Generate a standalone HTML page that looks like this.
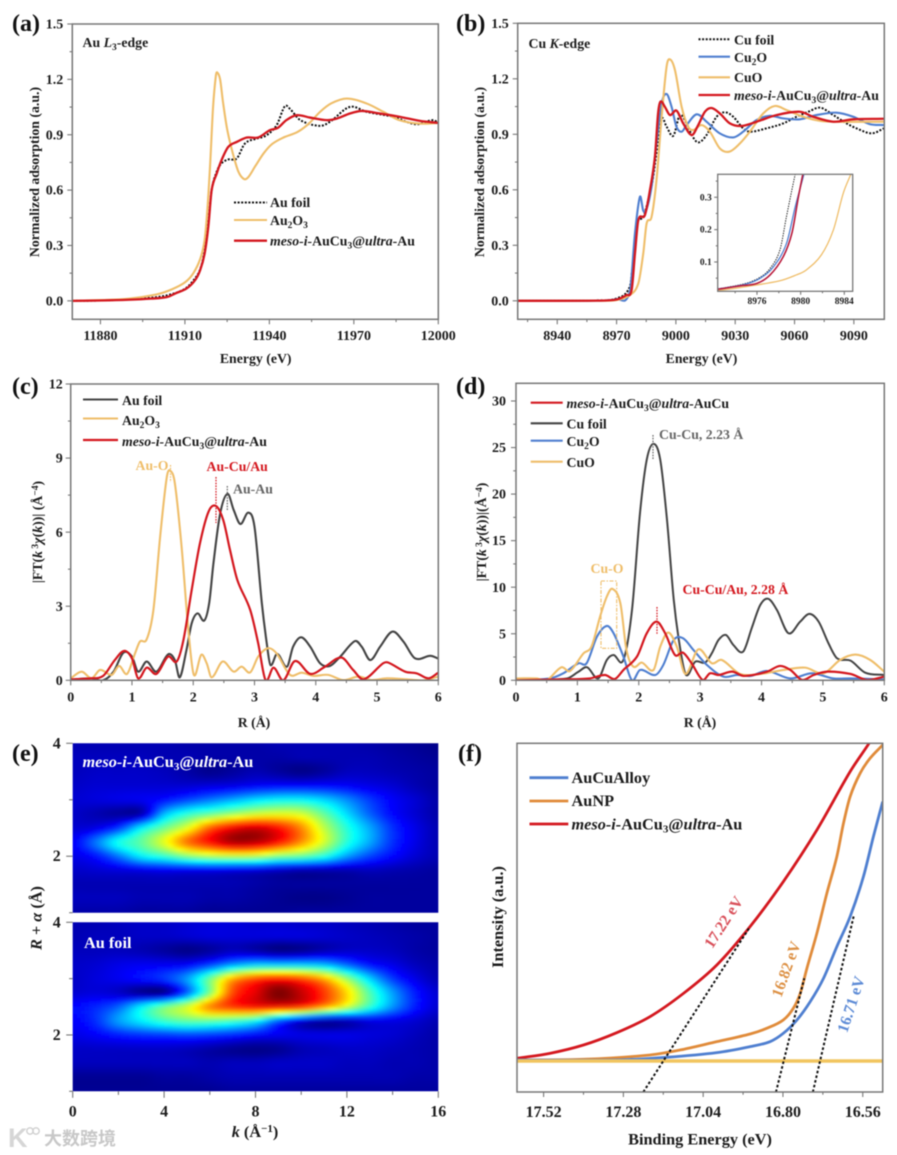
<!DOCTYPE html>
<html lang="en">
<head>
<meta charset="utf-8">
<title>XAFS and UPS characterisation figure</title>
<style>
html,body{margin:0;padding:0;background:#fff;width:897px;height:1155px;overflow:hidden}
svg{display:block;filter:blur(.4px)}
text{font-family:"Liberation Serif","Noto Serif CJK SC",serif;font-weight:bold;font-size:13.8px;fill:#1c1c1c}
.letter{font-size:24px;fill:#111}
.tick{font-size:14px}
.tick-large{font-size:16px}
.small{font-size:9.5px}
.sub{font-size:9.5px}
.big{font-size:16.3px}
.big .sub{font-size:11px}
.big tspan{font-size:inherit}
.big tspan.sub{font-size:11px}
.it{font-style:italic}
</style>
</head>
<body>
<svg id="figure" xmlns="http://www.w3.org/2000/svg" width="897" height="1155" viewBox="0 0 897 1155">
  <defs>
    <filter id="heat-blur" x="-5%" y="-5%" width="110%" height="110%"><feGaussianBlur stdDeviation="1.8"/></filter>
  </defs>
  <rect width="897" height="1155" fill="#fff"/>
  <g id="marks"></g>

  <!-- panel letters -->
  <text class="letter" x="12" y="31">(a)</text>
  <text class="letter" x="456" y="31">(b)</text>
  <text class="letter" x="12" y="394">(c)</text>
  <text class="letter" x="456" y="394">(d)</text>
  <text class="letter" x="12" y="761">(e)</text>
  <text class="letter" x="458" y="761">(f)</text>

  <!-- panel a text -->
  <text x="82.5" y="47">Au <tspan class="it">L</tspan><tspan class="sub" dy="3">3</tspan><tspan dy="-3">-edge</tspan></text>
  <text x="255.7" y="363" text-anchor="middle">Energy (eV)</text>
  <text transform="translate(39,172) rotate(-90)" text-anchor="middle">Normalized adsorption (a.u.)</text>
  <g>
    <line x1="234" x2="267" y1="202.5" y2="202.5" stroke="#111" stroke-width="2" stroke-dasharray="2 1.6"/>
    <text x="270" y="207">Au foil</text>
    <line x1="234" x2="267" y1="220" y2="220" stroke="#EFBE6A" stroke-width="2.1"/>
    <text x="270" y="225">Au<tspan class="sub" dy="3">2</tspan><tspan dy="-3">O</tspan><tspan class="sub" dy="3">3</tspan></text>
    <line x1="234" x2="267" y1="240.7" y2="240.7" stroke="#D4181F" stroke-width="2.3"/>
    <text x="270" y="245.5"><tspan class="it">meso-i-</tspan>AuCu<tspan class="sub" dy="3">3</tspan><tspan dy="-3">@</tspan><tspan class="it">ultra</tspan>-Au</text>
  </g>

  <!-- panel b text -->
  <text x="528.5" y="48">Cu <tspan class="it">K</tspan>-edge</text>
  <text x="701.5" y="363" text-anchor="middle">Energy (eV)</text>
  <text transform="translate(484,172) rotate(-90)" text-anchor="middle">Normalized adsorption (a.u.)</text>
  <g>
    <line x1="698.5" x2="730" y1="39.3" y2="39.3" stroke="#111" stroke-width="2" stroke-dasharray="2 1.6"/>
    <text x="734" y="44.5">Cu foil</text>
    <line x1="698.5" x2="730" y1="56.7" y2="56.7" stroke="#4F7FD0" stroke-width="2.2"/>
    <text x="734" y="62">Cu<tspan class="sub" dy="3">2</tspan><tspan dy="-3">O</tspan></text>
    <line x1="698.5" x2="730" y1="77.3" y2="77.3" stroke="#EFBE6A" stroke-width="2.1"/>
    <text x="734" y="82">CuO</text>
    <line x1="698.5" x2="730" y1="95" y2="95" stroke="#D4181F" stroke-width="2.3"/>
    <text x="734" y="100"><tspan class="it">meso-i-</tspan>AuCu<tspan class="sub" dy="3">3</tspan><tspan dy="-3">@</tspan><tspan class="it">ultra</tspan>-Au</text>
  </g>

  <!-- panel c text -->
  <text x="254" y="727" text-anchor="middle">R (Å)</text>
  <text transform="translate(42,532) rotate(-90)" text-anchor="middle">|FT(<tspan class="it">k</tspan><tspan class="sub" dy="-4"> 3</tspan><tspan dy="4" class="it">χ</tspan>(<tspan class="it">k</tspan>))| (Å<tspan class="sub" dy="-4">−4</tspan><tspan dy="4">)</tspan></text>
  <g>
    <line x1="83" x2="118" y1="399.5" y2="399.5" stroke="#444" stroke-width="2.1"/>
    <text x="122" y="405">Au foil</text>
    <line x1="83" x2="118" y1="418.5" y2="418.5" stroke="#EFBE6A" stroke-width="2.1"/>
    <text x="122" y="425">Au<tspan class="sub" dy="3">2</tspan><tspan dy="-3">O</tspan><tspan class="sub" dy="3">3</tspan></text>
    <line x1="83" x2="118" y1="440" y2="440" stroke="#D4181F" stroke-width="2.2"/>
    <text x="122" y="446"><tspan class="it">meso-i-</tspan>AuCu<tspan class="sub" dy="3">3</tspan><tspan dy="-3">@</tspan><tspan class="it">ultra</tspan>-Au</text>
  </g>
  <text x="135.5" y="470" style="fill:#EFBE6A">Au-O</text>
  <text x="206.5" y="471" style="fill:#D4181F">Au-Cu/Au</text>
  <text x="233" y="493.5" style="fill:#666">Au-Au</text>
  <line x1="170.5" x2="170.5" y1="465" y2="482" stroke="#EFBE6A" stroke-width="1.2" stroke-dasharray="1.6 1.2"/>
  <line x1="216" x2="216" y1="477" y2="523" stroke="#D4181F" stroke-width="1.2" stroke-dasharray="1.6 1.2"/>
  <line x1="227.3" x2="227.3" y1="486" y2="510" stroke="#666" stroke-width="1.2" stroke-dasharray="1.6 1.2"/>

  <!-- panel d text -->
  <text x="700" y="727" text-anchor="middle">R (Å)</text>
  <text transform="translate(486,532) rotate(-90)" text-anchor="middle">|FT(<tspan class="it">k</tspan><tspan class="sub" dy="-4"> 3</tspan><tspan dy="4" class="it">χ</tspan>(<tspan class="it">k</tspan>))|(Å<tspan class="sub" dy="-4">−4</tspan><tspan dy="4">)</tspan></text>
  <g>
    <line x1="530.7" x2="562.7" y1="402.7" y2="402.7" stroke="#D4181F" stroke-width="2.1"/>
    <text x="566.5" y="408"><tspan class="it">meso-i-</tspan>AuCu<tspan class="sub" dy="3">3</tspan><tspan dy="-3">@</tspan><tspan class="it">ultra</tspan>-AuCu</text>
    <line x1="530.7" x2="562.7" y1="423.3" y2="423.3" stroke="#444" stroke-width="2.1"/>
    <text x="566.5" y="428.5">Cu foil</text>
    <line x1="530.7" x2="562.7" y1="440.7" y2="440.7" stroke="#4F7FD0" stroke-width="2.2"/>
    <text x="566.5" y="446">Cu<tspan class="sub" dy="3">2</tspan><tspan dy="-3">O</tspan></text>
    <line x1="530.7" x2="562.7" y1="461.7" y2="461.7" stroke="#EFBE6A" stroke-width="2.1"/>
    <text x="566.5" y="467">CuO</text>
  </g>
  <text x="659" y="439" style="fill:#666">Cu-Cu, 2.23 Å</text>
  <text x="682.5" y="594" style="fill:#D4181F">Cu-Cu/Au, 2.28 Å</text>
  <text x="590.5" y="573" style="fill:#EFBE6A">Cu-O</text>
  <rect x="601" y="581" width="15.7" height="67.3" fill="none" stroke="#EFBE6A" stroke-width="1.1" stroke-dasharray="4 1.5 1.5 1.5"/>
  <line x1="653" x2="653" y1="435" y2="459.5" stroke="#666" stroke-width="1.2" stroke-dasharray="1.6 1.2"/>
  <line x1="657" x2="657" y1="607" y2="635" stroke="#D4181F" stroke-width="1.2" stroke-dasharray="1.6 1.2"/>

  <!-- panel e titles -->
  <text class="big" x="255" y="1137" text-anchor="middle"><tspan class="it">k</tspan> (Å<tspan class="sub" dy="-5">−1</tspan><tspan dy="5">)</tspan></text>
  <text class="big" transform="translate(41.5,918) rotate(-90)" text-anchor="middle"><tspan class="it">R</tspan> + <tspan class="it">α</tspan> (Å)</text>

  <!-- panel f text -->
  <text class="big" x="700" y="1144.5" text-anchor="middle">Binding Energy (eV)</text>
  <text class="big" transform="translate(503,917) rotate(-90)" text-anchor="middle">Intensity (a.u.)</text>
  <g>
    <line x1="529.5" x2="568.3" y1="777.7" y2="777.7" stroke="#4F7FD0" stroke-width="2.8"/>
    <text class="big" x="571.5" y="783">AuCuAlloy</text>
    <line x1="529.5" x2="568.3" y1="801" y2="801" stroke="#E08B3A" stroke-width="2.8"/>
    <text class="big" x="571.5" y="806">AuNP</text>
    <line x1="529.5" x2="568.3" y1="824" y2="824" stroke="#D4181F" stroke-width="2.8"/>
    <text class="big" x="571.5" y="829.5"><tspan class="it">meso-i-</tspan>AuCu<tspan class="sub" dy="3">3</tspan><tspan dy="-3">@</tspan><tspan class="it">ultra</tspan>-Au</text>
  </g>
  <text transform="translate(728,925) rotate(-57)" text-anchor="middle" style="font-size:15.8px;fill:#D9505A">17.22 eV</text>
  <text transform="translate(791,971) rotate(-70)" text-anchor="middle" style="font-size:15.8px;fill:#DD9145">16.82 eV</text>
  <text transform="translate(856,1006) rotate(-72)" text-anchor="middle" style="font-size:15.8px;fill:#5D8BD6">16.71 eV</text>

  <!-- watermark -->
  <g>
    <text x="8" y="1147" style="font-family:'Liberation Sans',sans-serif;font-size:27px;fill:#d6d6d6">K</text>
    <circle cx="30" cy="1131" r="3.2" fill="none" stroke="#d0d0d0" stroke-width="1.4"/>
    <circle cx="36" cy="1131" r="3.2" fill="none" stroke="#d0d0d0" stroke-width="1.4"/>
    <text x="44" y="1145" style="font-family:'Liberation Sans','Noto Sans CJK SC',sans-serif;font-size:18px;font-weight:bold;fill:#c8c8c8">大数跨境</text>
  </g>
</svg>

<script>
/* ---------- Panel (a) data ---------- */
const aFoil = [[11870,0],[11880,.002],[11890,.008],[11900,.02],[11905,.035],[11910,.065],[11913,.11],[11915.4,.17],[11917,.27],[11918.3,.42],[11919.5,.6],[11921.3,.7],[11923,.745],[11925.4,.766],[11928.4,.771],[11931.3,.852],[11935.5,.879],[11939,.897],[11942.6,.952],[11945.5,1.055],[11947.3,1.04],[11951,.979],[11958,.948],[11961.5,.97],[11968.6,1.051],[11974.6,1.024],[11984,.997],[11992,.957],[11998,.979],[12000,.966]];
const aOxide = [[11870,0],[11880,.004],[11890,.012],[11900,.035],[11905,.06],[11910,.1],[11913,.15],[11915.5,.23],[11917,.33],[11918,.5],[11919,.75],[11920,1.05],[11921,1.22],[11921.5,1.237],[11922.5,1.2],[11923.5,1.08],[11925,.93],[11927,.8],[11929,.7],[11931,.66],[11932.5,.67],[11935,.73],[11938,.8],[11941,.85],[11945,.885],[11950,.915],[11954,.96],[11958,1.024],[11962,1.07],[11967.5,1.096],[11974.6,1.069],[11980.5,1.024],[11986,.98],[11993.5,.96],[12000,.964]];
const aSample = [[11870,0],[11880,.002],[11890,.006],[11898,.012],[11903.5,.02],[11907,.043],[11910.6,.067],[11913.6,.112],[11915.4,.166],[11917,.256],[11918.3,.4],[11919.5,.6],[11921.3,.69],[11923,.762],[11925.4,.834],[11928.4,.861],[11932,.885],[11936,.885],[11940.2,.925],[11943,.937],[11946,.979],[11949.7,1.006],[11954.4,.993],[11960.4,.979],[11964,.988],[11968.6,1.015],[11972.8,1.029],[11978,1.018],[11986.4,.997],[11993.5,.975],[12000,.964]];
const aXTicks = [11880,11910,11940,11970,12000];
const aXMinor = [11895,11925,11955,11985];
const aYTicks = [0,.3,.6,.9,1.2,1.5];
const aYMinor = [.15,.45,.75,1.05,1.35];

/* ---------- Panel (b) data ---------- */
const bFoil = [[8920,0],[8960,.002],[8970,.013],[8976.7,.076],[8978.4,.22],[8979.8,.4],[8981,.436],[8983.5,.454],[8986,.544],[8988.5,.67],[8991,.869],[8992.8,.986],[8995.3,.941],[8998.7,.892],[9002,1.004],[9005.4,.959],[9008,.896],[9011.3,.856],[9015.5,.896],[9020.6,.995],[9024.8,1.019],[9029,.995],[9034,.932],[9037.4,.914],[9045.8,.932],[9054.3,.959],[9061,.995],[9067,1.022],[9073,1.044],[9079.6,1.004],[9086.3,.959],[9091.4,.932],[9099,.905],[9105.3,.932]];
const bCu2O = [[8920,0],[8960,.001],[8970,.009],[8976.7,.05],[8979.3,.364],[8981.8,.562],[8983.5,.487],[8985,.49],[8987.7,.617],[8990.2,.851],[8992.8,1.067],[8995.3,1.118],[8997.8,1.049],[9000.3,.941],[9002.9,.914],[9005.4,.95],[9010.5,1.008],[9015.5,.968],[9022.2,.905],[9029,.883],[9034,.914],[9040.8,.977],[9047.5,1],[9054.3,.986],[9062.7,.981],[9071.1,1.004],[9081.2,1.017],[9089.7,.995],[9098,.955],[9105.3,.95]];
const bCuO = [[8920,0],[8960,.001],[8970,.004],[8976.7,.031],[8981,.094],[8983.5,.256],[8985.2,.418],[8987.7,.454],[8990.2,.653],[8992.8,.995],[8995.3,1.266],[8997,1.305],[8999.5,1.248],[9002.9,1.049],[9006.2,.941],[9008.8,.923],[9013,.95],[9017.2,.914],[9022.2,.824],[9027,.806],[9032.4,.851],[9037.4,.914],[9044.2,1.013],[9050,1.053],[9056,1.031],[9064.4,.995],[9072.8,.973],[9081.2,.968],[9105.3,.968]];
const bSample = [[8920,0],[8960,.001],[8970,.007],[8975,.031],[8977.6,.058],[8979.3,.256],[8981,.436],[8984.3,.463],[8986.9,.599],[8989.4,.779],[8991,1.013],[8992.2,1.076],[8994.4,1.049],[8997,1.004],[9000.3,1.028],[9003.7,.959],[9008,.896],[9011.3,.95],[9014.7,1.022],[9018,1.042],[9022.2,1.013],[9027.3,.959],[9033.2,.945],[9040.8,.968],[9050.9,1.004],[9062.7,1.022],[9069.4,.995],[9079.6,.968],[9089.7,.981],[9105.3,.984]];
const bXTicks = [8940,8970,9000,9030,9060,9090];
const bXMinor = [8925,8955,8985,9015,9045,9075];
const bYTicks = [0,.3,.6,.9,1.2,1.5];
const bYMinor = [.15,.45,.75,1.05,1.35];

/* ---------- Panel (b) inset data ---------- */
const insetFoil = [[8972.4,.0165],[8975,.034],[8976.3,.053],[8977.2,.08],[8978.1,.137],[8978.7,.24],[8979.2,.323],[8979.5,.371]];
const insetCu2O = [[8972.4,.0165],[8975,.032],[8976.3,.05],[8977.5,.085],[8978.7,.157],[8979.5,.27],[8980.3,.371]];
const insetCuO = [[8972.4,.011],[8975,.024],[8978.1,.042],[8979.6,.06],[8980.5,.075],[8981.9,.122],[8983,.199],[8983.9,.312],[8984.6,.371]];
const insetSample = [[8972.4,.0155],[8974.4,.026],[8976,.034],[8977.2,.06],[8978.4,.116],[8979.2,.189],[8979.8,.302],[8980.2,.371]];
const insetXTicks = [8976,8980,8984];
const insetXMinor = [8974,8978,8982];
const insetYTicks = [.1,.2,.3];
const insetYMinor = [.05,.15,.25,.35];

/* ---------- Panel (c) data ---------- */
const cFoil = [[0,.02],[.32,.08],[.53,0],[.7,.35],[.86,1.12],[1,.96],[1.1,.35],[1.24,.76],[1.4,.35],[1.59,1.05],[1.7,.82],[1.78,.12],[1.89,1.23],[1.975,2.31],[2.07,2.71],[2.18,2.42],[2.26,3.12],[2.33,4.74],[2.44,6.76],[2.56,7.55],[2.66,6.9],[2.77,6.33],[2.9,6.79],[3,6.22],[3.12,3.12],[3.2,1.5],[3.26,.62],[3.37,1.07],[3.53,.55],[3.63,1.36],[3.76,1.74],[3.91,1.36],[4.07,.69],[4.23,.58],[4.4,.96],[4.64,1.59],[4.75,1.36],[4.89,.82],[5.05,1.36],[5.25,1.97],[5.43,1.57],[5.62,.89],[5.87,.99],[6,.88]];
const cOxide = [[0,.08],[.18,.35],[.34,.08],[.48,.42],[.67,.22],[.79,.58],[.92,.26],[1.05,1.09],[1.13,1.57],[1.24,1.66],[1.35,2.85],[1.46,5.82],[1.57,8.25],[1.63,8.48],[1.7,7.98],[1.81,5.41],[1.92,2.04],[2.01,.22],[2.13,1.03],[2.22,.69],[2.3,.12],[2.48,.76],[2.66,.35],[2.79,.55],[2.93,.32],[3.06,.96],[3.22,1.3],[3.36,1.09],[3.58,.22],[3.77,.31],[3.96,.18],[4.2,.22],[4.45,.01],[4.7,.15],[4.91,.01],[5.16,.08],[5.48,.04],[5.76,0],[6,.15]];
const cSample = [[0,.04],[.32,.08],[.53,.18],[.72,.82],[.87,1.19],[1,.89],[1.1,.08],[1.24,.51],[1.4,.26],[1.59,.96],[1.73,.76],[1.84,1.63],[1.975,3.66],[2.11,5.55],[2.25,6.83],[2.37,7.06],[2.49,6.49],[2.6,5.28],[2.72,4.06],[2.93,2.85],[3.06,1.5],[3.18,.01],[3.31,.51],[3.47,0],[3.66,.78],[3.91,.26],[4.15,.55],[4.42,.92],[4.61,.42],[4.78,.04],[5.1,.69],[5.18,.72],[5.46,.35],[5.65,.28],[5.84,.08],[6,.31]];
const cXTicks = [0,1,2,3,4,5,6];
const cXMinor = [.5,1.5,2.5,3.5,4.5,5.5];
const cYTicks = [0,3,6,9,12];
const cYMinor = [1.5,4.5,7.5,10.5];

/* ---------- Panel (d) data ---------- */
const dSample = [[0,0],[.77,.1],[1.2,.2],[1.45,.57],[1.61,.14],[1.75,1.11],[1.97,2.54],[2.13,5.05],[2.29,6.3],[2.43,5.05],[2.59,2.72],[2.72,2.97],[2.86,1.83],[3.04,.04],[3.16,.75],[3.3,.57],[3.52,.93],[3.71,.47],[4.09,.93],[4.3,1.54],[4.47,1.11],[4.66,.04],[4.85,.57],[5.07,.93],[5.45,.68],[5.72,.04],[6,.39]];
const dFoil = [[0,.03],[.83,.2],[1.02,.93],[1.16,1.4],[1.34,.2],[1.48,2.19],[1.59,2.72],[1.75,2.19],[1.89,7.56],[2.02,17.96],[2.13,23.7],[2.24,25.4],[2.35,23.7],[2.46,17.24],[2.57,8.64],[2.67,3.62],[2.77,.57],[2.92,2],[3.08,1.9],[3.19,2.9],[3.3,4.34],[3.42,4.87],[3.54,3.8],[3.7,3.08],[3.84,5.6],[3.98,8.1],[4.11,8.75],[4.25,7.56],[4.44,5.05],[4.63,6.3],[4.78,7.13],[4.93,6.3],[5.09,3.98],[5.23,2.37],[5.45,2.11],[5.69,.82],[6,.57]];
const dCu2O = [[0,0],[.55,.2],[.77,.75],[1.02,1.83],[1.15,1.83],[1.32,4.7],[1.48,5.84],[1.59,5.05],[1.75,2.54],[1.89,0],[2.02,1.11],[2.27,.57],[2.4,1.65],[2.57,4.34],[2.72,4.52],[2.89,3.26],[3.11,1.65],[3.38,.39],[3.6,.57],[3.82,.47],[4.09,1],[4.47,.2],[4.82,.75],[5.17,.2],[5.45,.2],[6,.1]];
const dCuO = [[0,.2],[.34,.2],[.5,0],[.74,1.4],[.88,1],[1.1,2.9],[1.23,3.62],[1.37,6.85],[1.48,9],[1.57,9.82],[1.7,8.28],[1.8,3.26],[1.91,1.47],[2.05,1.9],[2.24,1.11],[2.35,3.62],[2.48,5.13],[2.62,3.62],[2.76,.68],[2.97,3.33],[3.19,1.83],[3.35,2.19],[3.65,.68],[3.98,.68],[4.36,1.11],[4.71,1.36],[5.01,.75],[5.28,2.19],[5.53,2.76],[5.77,2.19],[6,.93]];
const dXTicks = [0,1,2,3,4,5,6];
const dXMinor = [.5,1.5,2.5,3.5,4.5,5.5];
const dYTicks = [0,5,10,15,20,25,30];
const dYMinor = [2.5,7.5,12.5,17.5,22.5,27.5];

/* ---------- Panel (e) heatmap data: rows R = 4 ... 1, columns k = 0 ... 16 ---------- */
const eK = [0,1,2,3,4,5,6,7,8,9,10,11,12,13,14,15,16];
const eR = [4,3.75,3.5,3.25,3,2.75,2.5,2.25,2,1.75,1.5,1.25,1];
const eSampleGrid = [
 [.05,.05,.05,.05,.05,.04,.04,.04,.04,.05,.05,.05,.05,.04,.03,.02,.01],
 [.06,.06,.06,.06,.05,.05,.04,.04,.04,.04,.05,.05,.05,.05,.04,.03,.02],
 [.06,.07,.07,.07,.06,.04,.015,.03,.05,.03,.01,.03,.06,.06,.05,.04,.03],
 [.07,.08,.08,.08,.08,.08,.09,.1,.12,.13,.13,.13,.12,.1,.08,.05,.03],
 [.08,.09,.1,.11,.14,.19,.24,.29,.34,.37,.37,.33,.26,.18,.12,.08,.04],
 [.07,.05,.03,.05,.3,.41,.47,.53,.58,.6,.58,.47,.34,.22,.13,.08,.04],
 [.08,.1,.18,.36,.48,.6,.78,.88,.92,.86,.74,.56,.41,.29,.17,.1,.05],
 [.12,.24,.39,.47,.6,.76,.86,.95,.94,.86,.73,.58,.41,.29,.17,.1,.05],
 [.1,.14,.24,.36,.42,.5,.55,.57,.56,.5,.47,.4,.28,.19,.13,.08,.05],
 [.07,.08,.09,.1,.11,.11,.11,.1,.09,.07,.05,.05,.05,.06,.05,.04,.03],
 [.05,.05,.05,.05,.05,.05,.05,.05,.04,.03,.03,.03,.03,.03,.03,.03,.03],
 [.06,.06,.06,.05,.05,.05,.04,.04,.03,.02,.01,.01,.02,.03,.03,.03,.03],
 [.04,.04,.04,.03,.03,.03,.02,.02,.02,.02,.03,.03,.03,.03,.03,.03,.03]
];
const eFoilGrid = [
 [.05,.05,.06,.07,.07,.08,.09,.09,.08,.08,.07,.07,.06,.05,.04,.03,.03],
 [.05,.06,.06,.07,.07,.08,.09,.09,.09,.09,.09,.08,.07,.06,.05,.04,.03],
 [.06,.06,.06,.05,.03,.01,.03,.06,.04,.01,.02,.05,.07,.07,.06,.04,.03],
 [.07,.08,.1,.11,.11,.12,.18,.27,.32,.32,.32,.3,.22,.14,.1,.06,.04],
 [.07,.09,.11,.14,.18,.28,.48,.7,.8,.84,.8,.7,.52,.33,.18,.1,.05],
 [.08,.09,.07,.02,.02,.22,.5,.8,.9,1,.93,.82,.66,.45,.28,.15,.08],
 [.13,.16,.22,.36,.48,.58,.74,.82,.86,.86,.83,.72,.58,.42,.27,.15,.08],
 [.12,.17,.28,.36,.43,.47,.47,.44,.38,.22,.1,.05,.06,.1,.1,.08,.05],
 [.1,.12,.15,.17,.18,.19,.18,.16,.13,.11,.1,.1,.1,.09,.08,.06,.04],
 [.07,.07,.07,.07,.07,.06,.04,.02,.01,.02,.05,.06,.07,.07,.06,.05,.04],
 [.06,.06,.06,.06,.06,.06,.05,.06,.06,.07,.07,.07,.06,.06,.05,.05,.04],
 [.02,.02,.02,.02,.03,.03,.04,.05,.05,.05,.05,.05,.05,.05,.05,.04,.04],
 [.02,.02,.02,.02,.02,.02,.02,.03,.03,.03,.03,.03,.03,.03,.03,.03,.03]
];
const eXTicks = [0,4,8,12,16];
const eXMinor = [2,6,10,14];
const eYTicks = [4,2];
const eYMinor = [3,1];

/* ---------- Panel (f) data ---------- */
const fSample = [[17.6,.008],[17.501,.023],[17.4,.048],[17.3,.085],[17.2,.133],[17.099,.203],[16.999,.288],[16.899,.403],[16.799,.538],[16.698,.693],[16.598,.868],[16.541,.953],[16.5,1.02]];
const fAuNP = [[17.6,.003],[17.4,.005],[17.2,.018],[17.099,.035],[16.999,.058],[16.899,.081],[16.849,.098],[16.799,.123],[16.769,.158],[16.748,.203],[16.728,.278],[16.698,.383],[16.668,.503],[16.638,.613],[16.618,.713],[16.598,.793],[16.568,.863],[16.538,.908],[16.5,.948]];
const fAlloy = [[17.6,.003],[17.3,.003],[17.15,.011],[16.999,.025],[16.899,.043],[16.839,.058],[16.799,.083],[16.758,.123],[16.718,.178],[16.678,.248],[16.638,.343],[16.598,.433],[16.558,.553],[16.528,.673],[16.5,.778]];
const fBaseline = [[17.6,0],[16.5,0]];
const fTangentSample = [[17.22,-.093],[16.899,.403]];
const fTangentAuNP = [[16.821,-.093],[16.736,.248]];
const fTangentAlloy = [[16.71,-.093],[16.586,.44]];
const fXTicks = [17.52,17.28,17.04,16.8,16.56];
const fXMinor = [17.4,17.16,16.92,16.68];

/* ---------- Helpers ---------- */
const SVG_NS = 'http://www.w3.org/2000/svg';
const root = document.getElementById('marks');
const AXIS_COLOR = '#777';
let clipCount = 0;

function linear(d0, d1, r0, r1) {
  return function (v) { return r0 + (v - d0) / (d1 - d0) * (r1 - r0); };
}
function create(tag, attrs, parent) {
  const el = document.createElementNS(SVG_NS, tag);
  for (const key in attrs) el.setAttribute(key, attrs[key]);
  parent.appendChild(el);
  return el;
}
function clipGroup(box, parent) {
  clipCount += 1;
  const clip = create('clipPath', { id: 'clip-' + clipCount }, parent);
  create('rect', { x: box.left, y: box.top, width: box.right - box.left, height: box.bottom - box.top }, clip);
  return create('g', { 'clip-path': 'url(#clip-' + clipCount + ')' }, parent);
}
/* smooth x-monotone Hermite curve through the data points */
function curvePath(points, sx, sy) {
  const n = points.length;
  const slope = points.map(function (p, i) {
    if (n < 3) return (points[1][1] - points[0][1]) / (points[1][0] - points[0][0]);
    const a = points[Math.max(i - 1, 0)];
    const b = points[Math.min(i + 1, n - 1)];
    return (b[1] - a[1]) / (b[0] - a[0]);
  });
  let d = 'M' + sx(points[0][0]).toFixed(2) + ' ' + sy(points[0][1]).toFixed(2);
  for (let i = 0; i < n - 1; i++) {
    const dx = points[i + 1][0] - points[i][0];
    const x1 = points[i][0] + dx / 3;
    const y1 = points[i][1] + slope[i] * dx / 3;
    const x2 = points[i + 1][0] - dx / 3;
    const y2 = points[i + 1][1] - slope[i + 1] * dx / 3;
    d += 'C' + sx(x1).toFixed(2) + ' ' + sy(y1).toFixed(2) + ' ' + sx(x2).toFixed(2) + ' ' + sy(y2).toFixed(2) + ' ' + sx(points[i + 1][0]).toFixed(2) + ' ' + sy(points[i + 1][1]).toFixed(2);
  }
  return d;
}
function drawCurve(parent, points, sx, sy, name, color, width, dash) {
  const path = create('path', { d: curvePath(points, sx, sy), fill: 'none', stroke: color, 'stroke-width': width, 'stroke-linejoin': 'round' }, parent);
  if (dash) path.setAttribute('stroke-dasharray', dash);
  
  
  return path;
}
function drawFrame(parent, box, name) {
  const rect = create('rect', { x: box.left, y: box.top, width: box.right - box.left, height: box.bottom - box.top, fill: 'none', stroke: AXIS_COLOR, 'stroke-width': box.frameWidth || 1.5 }, parent);
  
  
}
function drawXAxis(parent, box, sx, ticks, minor, format, name) {
  const major = box.tickLen || 5;
  ticks.forEach(function (v) {
    const tick = create('line', { x1: sx(v), x2: sx(v), y1: box.bottom, y2: box.bottom + major, stroke: AXIS_COLOR, 'stroke-width': 1.1 }, parent);
    
    
    const label = create('text', { x: sx(v), y: box.bottom + box.xLabelGap, 'text-anchor': 'middle', class: box.labelClass || 'tick' }, parent);
    label.textContent = format(v);
    
    
  });
  minor.forEach(function (v) {
    const tick = create('line', { x1: sx(v), x2: sx(v), y1: box.bottom, y2: box.bottom + major * 0.55, stroke: AXIS_COLOR, 'stroke-width': 1.1 }, parent);
    
    
  });
}
function drawYAxis(parent, box, sy, ticks, minor, format, name) {
  const major = box.tickLen || 5;
  ticks.forEach(function (v) {
    const tick = create('line', { x1: box.left - major, x2: box.left, y1: sy(v), y2: sy(v), stroke: AXIS_COLOR, 'stroke-width': 1.1 }, parent);
    
    
    const label = create('text', { x: box.left - box.yLabelGap, y: sy(v) + (box.labelDrop || 4.6), 'text-anchor': 'end', class: box.labelClass || 'tick' }, parent);
    label.textContent = format(v);
    
    
  });
  minor.forEach(function (v) {
    const tick = create('line', { x1: box.left - major * 0.55, x2: box.left, y1: sy(v), y2: sy(v), stroke: AXIS_COLOR, 'stroke-width': 1.1 }, parent);
    
    
  });
}
function fixed(digits) { return function (v) { return v.toFixed(digits); }; }

/* ---------- Heatmap helpers ---------- */
function cubic(p0, p1, p2, p3, t) {
  return p1 + 0.5 * t * (p2 - p0 + t * (2 * p0 - 5 * p1 + 4 * p2 - p3 + t * (3 * (p1 - p2) + p3 - p0)));
}
function sampleGrid(grid, colPos, rowPos) {
  const nr = grid.length;
  const nc = grid[0].length;
  const r0 = Math.max(0, Math.min(nr - 1, Math.floor(rowPos)));
  const c0 = Math.max(0, Math.min(nc - 1, Math.floor(colPos)));
  const tr = Math.max(0, Math.min(1, rowPos - r0));
  const tc = Math.max(0, Math.min(1, colPos - c0));
  const across = [];
  for (let i = -1; i <= 2; i++) {
    const row = grid[Math.max(0, Math.min(nr - 1, r0 + i))];
    across.push(cubic(
      row[Math.max(0, c0 - 1)], row[c0],
      row[Math.min(nc - 1, c0 + 1)], row[Math.min(nc - 1, c0 + 2)], tc));
  }
  return Math.max(0, Math.min(1, cubic(across[0], across[1], across[2], across[3], tr)));
}
function jet(v) {
  const c = function (x) { return Math.round(255 * Math.max(0, Math.min(1, x))); };
  return 'rgb(' + c(Math.min(4 * v - 1.5, -4 * v + 4.5)) + ',' + c(Math.min(4 * v - 0.5, -4 * v + 3.5)) + ',' + c(Math.min(4 * v + 0.5, -4 * v + 2.5)) + ')';
}
function drawHeatmap(parent, box, grid, name) {
  const clipped = clipGroup(box, parent);
  
  
  const blurred = create('g', { filter: 'url(#heat-blur)' }, clipped);
  const cell = 4;
  const sx = linear(eK[0], eK[eK.length - 1], box.left, box.right);
  const sy = linear(eR[eR.length - 1], eR[0], box.bottom, box.top);
  const kOf = linear(box.left, box.right, eK[0], eK[eK.length - 1]);
  const rOf = linear(box.bottom, box.top, eR[eR.length - 1], eR[0]);
  const kStep = eK[1] - eK[0];
  const rStep = eR[0] - eR[1];
  for (let py = box.top - 8; py < box.bottom + 8; py += cell) {
    for (let px = box.left - 8; px < box.right + 8; px += cell) {
      const colPos = (kOf(px + cell / 2) - eK[0]) / kStep;
      const rowPos = (eR[0] - rOf(py + cell / 2)) / rStep;
      const rect = create('rect', { x: px, y: py, width: cell + 0.4, height: cell + 0.4, fill: jet(sampleGrid(grid, colPos, rowPos)) }, blurred);
      
      
    }
  }
  return { sx: sx, sy: sy };
}

/* ---------- Panel (a) ---------- */
(function () {
  const box = { left: 72.3, right: 438.3, top: 24, bottom: 319.3, xLabelGap: 20.7, yLabelGap: 9 };
  const g = create('g', {}, root);
  
  
  const sx = linear(11870, 12000, box.left, box.right);
  const sy = linear(-0.1, 1.5, box.bottom, box.top);
  const plot = clipGroup(box, g);
  drawCurve(plot, aFoil, sx, sy, 'a-series-au-foil', '#111', 2, '2 1.6');
  drawCurve(plot, aOxide, sx, sy, 'a-series-au2o3', '#EFBE6A', 2.1);
  drawCurve(plot, aSample, sx, sy, 'a-series-sample', '#D4181F', 2.3);
  drawFrame(g, box, 'a');
  drawXAxis(g, box, sx, aXTicks, aXMinor, fixed(0), 'a');
  drawYAxis(g, box, sy, aYTicks, aYMinor, fixed(1), 'a');
})();

/* ---------- Panel (b) ---------- */
(function () {
  const box = { left: 517.7, right: 884.3, top: 23.3, bottom: 319.3, xLabelGap: 20.7, yLabelGap: 9 };
  const g = create('g', {}, root);
  
  
  const sx = linear(8920, 9105.4, box.left, box.right);
  const sy = linear(-0.1, 1.5, box.bottom, box.top);
  const plot = clipGroup(box, g);
  drawCurve(plot, bFoil, sx, sy, 'b-series-cu-foil', '#111', 2, '2 1.6');
  drawCurve(plot, bCu2O, sx, sy, 'b-series-cu2o', '#4F7FD0', 2.1);
  drawCurve(plot, bCuO, sx, sy, 'b-series-cuo', '#EFBE6A', 2.1);
  drawCurve(plot, bSample, sx, sy, 'b-series-sample', '#D4181F', 2.3);
  drawFrame(g, box, 'b');
  drawXAxis(g, box, sx, bXTicks, bXMinor, fixed(0), 'b');
  drawYAxis(g, box, sy, bYTicks, bYMinor, fixed(1), 'b');

  const inset = { left: 717.7, right: 852.7, top: 174.3, bottom: 291.3, xLabelGap: 12.7, yLabelGap: 6, tickLen: 3.5, labelClass: 'small', labelDrop: 3, frameWidth: 1.3 };
  const ig = create('g', {}, g);
  
  
  const ix = linear(8972.4, 8984.77, inset.left, inset.right);
  const iy = linear(0.0094, 0.371, inset.bottom, inset.top);
  const iplot = clipGroup(inset, ig);
  drawCurve(iplot, insetFoil, ix, iy, 'inset-series-cu-foil', '#222', 1, '1.4 1.1');
  drawCurve(iplot, insetCuO, ix, iy, 'inset-series-cuo', '#EFBE6A', 1.3);
  drawCurve(iplot, insetCu2O, ix, iy, 'inset-series-cu2o', '#4F7FD0', 1.3);
  drawCurve(iplot, insetSample, ix, iy, 'inset-series-sample', '#B8193A', 1.6);
  drawFrame(ig, inset, 'inset');
  drawXAxis(ig, inset, ix, insetXTicks, insetXMinor, fixed(0), 'inset');
  drawYAxis(ig, inset, iy, insetYTicks, insetYMinor, fixed(1), 'inset');
})();

/* ---------- Panel (c) ---------- */
(function () {
  const box = { left: 70.7, right: 438.3, top: 384, bottom: 680.3, xLabelGap: 21.4, yLabelGap: 8 };
  const g = create('g', {}, root);
  
  
  const sx = linear(0, 6, box.left, box.right);
  const sy = linear(0, 12, box.bottom, box.top);
  const plot = clipGroup(box, g);
  drawCurve(plot, cFoil, sx, sy, 'c-series-au-foil', '#444', 2.1);
  drawCurve(plot, cOxide, sx, sy, 'c-series-au2o3', '#EFBE6A', 2.1);
  drawCurve(plot, cSample, sx, sy, 'c-series-sample', '#D4181F', 2.2);
  drawFrame(g, box, 'c');
  drawXAxis(g, box, sx, cXTicks, cXMinor, fixed(0), 'c');
  drawYAxis(g, box, sy, cYTicks, cYMinor, fixed(0), 'c');
})();

/* ---------- Panel (d) ---------- */
(function () {
  const box = { left: 516, right: 884.3, top: 383.3, bottom: 680.3, xLabelGap: 21.4, yLabelGap: 10 };
  const g = create('g', {}, root);
  
  
  const sx = linear(0, 6, box.left, box.right);
  const sy = linear(0, 31.9, box.bottom, box.top);
  const plot = clipGroup(box, g);
  drawCurve(plot, dFoil, sx, sy, 'd-series-cu-foil', '#444', 2);
  drawCurve(plot, dCu2O, sx, sy, 'd-series-cu2o', '#4F7FD0', 2.1);
  drawCurve(plot, dCuO, sx, sy, 'd-series-cuo', '#EFBE6A', 2.1);
  drawCurve(plot, dSample, sx, sy, 'd-series-sample', '#D4181F', 2.2);
  drawFrame(g, box, 'd');
  drawXAxis(g, box, sx, dXTicks, dXMinor, fixed(0), 'd');
  drawYAxis(g, box, sy, dYTicks, dYMinor, fixed(0), 'd');
})();

/* ---------- Panel (e) ---------- */
(function () {
  const topBox = { left: 72.7, right: 438.3, top: 743.3, bottom: 912.7, xLabelGap: 25, yLabelGap: 12, tickLen: 6.5, labelClass: 'tick-large', labelDrop: 5 };
  const botBox = { left: 72.7, right: 438.3, top: 922.3, bottom: 1091.3, xLabelGap: 25, yLabelGap: 12, tickLen: 6.5, labelClass: 'tick-large', labelDrop: 5 };
  const g = create('g', {}, root);
  
  
  const top = drawHeatmap(g, topBox, eSampleGrid, 'e-heatmap-sample');
  const bot = drawHeatmap(g, botBox, eFoilGrid, 'e-heatmap-au-foil');
  drawYAxis(g, topBox, top.sy, eYTicks, eYMinor, fixed(0), 'e-top');
  drawYAxis(g, botBox, bot.sy, eYTicks, eYMinor, fixed(0), 'e-bottom');
  drawXAxis(g, botBox, bot.sx, eXTicks, eXMinor, fixed(0), 'e');
  const label = create('text', { x: 82.5, y: 767, class: 'big' }, g);
  
  
  label.style.fill = '#fff';
  const parts = [['meso-i-', 'it', 0], ['AuCu', '', 0], ['3', 'sub', 3], ['@', '', -3], ['ultra', 'it', 0], ['-Au', '', 0]];
  parts.forEach(function (p) {
    const span = create('tspan', { dy: p[2] }, label);
    span.textContent = p[0];
    span.style.fill = '#fff';
    if (p[1]) span.setAttribute('class', p[1]);
  });
  const foil = create('text', { x: 84, y: 948, class: 'big' }, g);
  foil.textContent = 'Au foil';
  foil.style.fill = '#fff';
  
  
})();

/* ---------- Panel (f) ---------- */
(function () {
  const box = { left: 517, right: 882.7, top: 743.3, bottom: 1092, xLabelGap: 25, yLabelGap: 9, labelClass: 'tick-large' };
  const g = create('g', {}, root);
  
  
  const sx = linear(17.6, 16.5, box.left, box.right);
  const sy = linear(-0.093, 0.953, box.bottom, box.top);
  const plot = clipGroup(box, g);
  drawCurve(plot, fSample, sx, sy, 'f-series-sample', '#D4181F', 2.8);
  drawCurve(plot, fAuNP, sx, sy, 'f-series-aunp', '#E08B3A', 2.8);
  drawCurve(plot, fAlloy, sx, sy, 'f-series-alloy', '#4F7FD0', 2.8);
  drawCurve(plot, fBaseline, sx, sy, 'f-baseline', '#F2C55F', 3.4);
  drawCurve(plot, fTangentSample, sx, sy, 'f-tangent-sample', '#111', 2, '2.6 2.2');
  drawCurve(plot, fTangentAuNP, sx, sy, 'f-tangent-aunp', '#111', 2, '2.6 2.2');
  drawCurve(plot, fTangentAlloy, sx, sy, 'f-tangent-alloy', '#111', 2, '2.6 2.2');
  drawFrame(g, box, 'f');
  drawXAxis(g, box, sx, fXTicks, fXMinor, fixed(2), 'f');
})();
</script>
</body>
</html>
